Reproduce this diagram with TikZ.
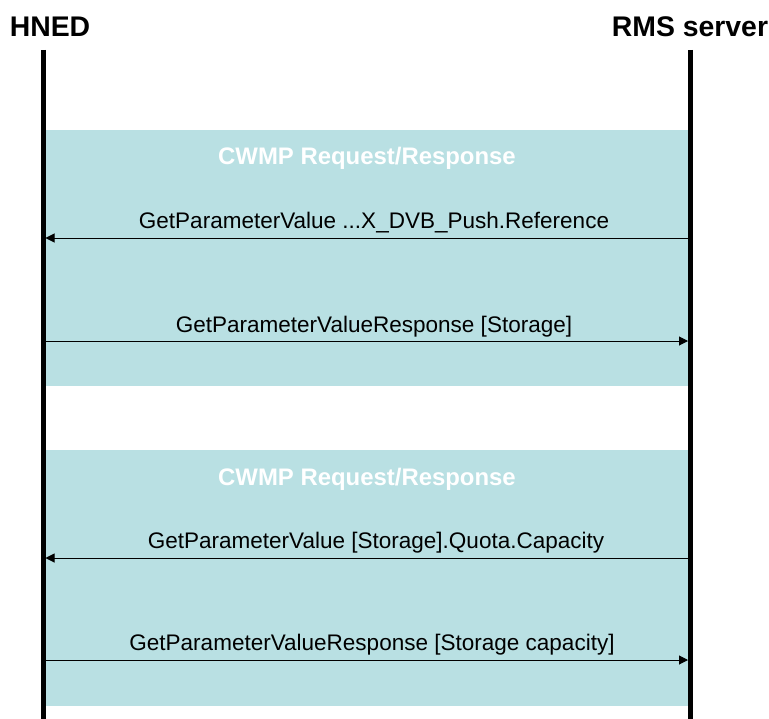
\documentclass[tikz,border=0pt]{standalone}
\usepackage{fontspec}
\setmainfont{Liberation Sans}
\usetikzlibrary{arrows.meta}
\definecolor{cwmpbg}{RGB}{185,224,227}
\tikzset{
	lifeline/.style={line width=5bp},
	msg/.style={line width=1bp,-{Triangle[length=9bp,width=9bp]}},
	actor/.style={anchor=base,font=\fontsize{28.5}{30}\selectfont\bfseries,inner sep=0pt},
	msglabel/.style={anchor=base,font=\fontsize{22.6}{24}\selectfont,inner sep=0pt},
	phase/.style={anchor=base,font=\fontsize{24}{26}\selectfont\bfseries,text=white,inner sep=0pt}
}
\begin{document}
\begin{tikzpicture}[x=1bp,y=-1bp]
		\useasboundingbox (0,0) rectangle (769,719);
		% lifelines
		\node[actor] (hned) at (50,37) {HNED};
		\node[actor] (rms) at (690,37) {RMS server};
		\coordinate (h1) at (43,50);
		\coordinate (h2) at (43,719);
		\coordinate (r1) at (690.5,50);
		\coordinate (r2) at (690.5,719);
		% request/response blocks
		\fill[cwmpbg] (43,130) rectangle (693,386);
		\fill[cwmpbg] (43,450) rectangle (693,706);
		\draw[lifeline] (h1) -- (h2);
		\draw[lifeline] (r1) -- (r2);
		\node[phase] (p1) at (367,164) {CWMP Request/Response};
		\node[phase] (p2) at (367,485) {CWMP Request/Response};
		% messages
		\coordinate (a1r) at (690.5,238);
		\coordinate (a1l) at (45.5,238);
		\draw[msg] (a1r) -- (a1l);
		\node[msglabel] (m1) at (374,228) {GetParameterValue ...X\_DVB\_Push.Reference};
		\coordinate (a2l) at (43,341);
		\coordinate (a2r) at (688,341);
		\draw[msg] (a2l) -- (a2r);
		\node[msglabel] (m2) at (374,332) {GetParameterValueResponse [Storage]};
		\coordinate (a3r) at (690.5,558);
		\coordinate (a3l) at (45.5,558);
		\draw[msg] (a3r) -- (a3l);
		\node[msglabel] (m3) at (376,548) {GetParameterValue [Storage].Quota.Capacity};
		\coordinate (a4l) at (43,660);
		\coordinate (a4r) at (688,660);
		\draw[msg] (a4l) -- (a4r);
		\node[msglabel] (m4) at (372,650) {GetParameterValueResponse [Storage capacity]};
	\end{tikzpicture}
\end{document}
